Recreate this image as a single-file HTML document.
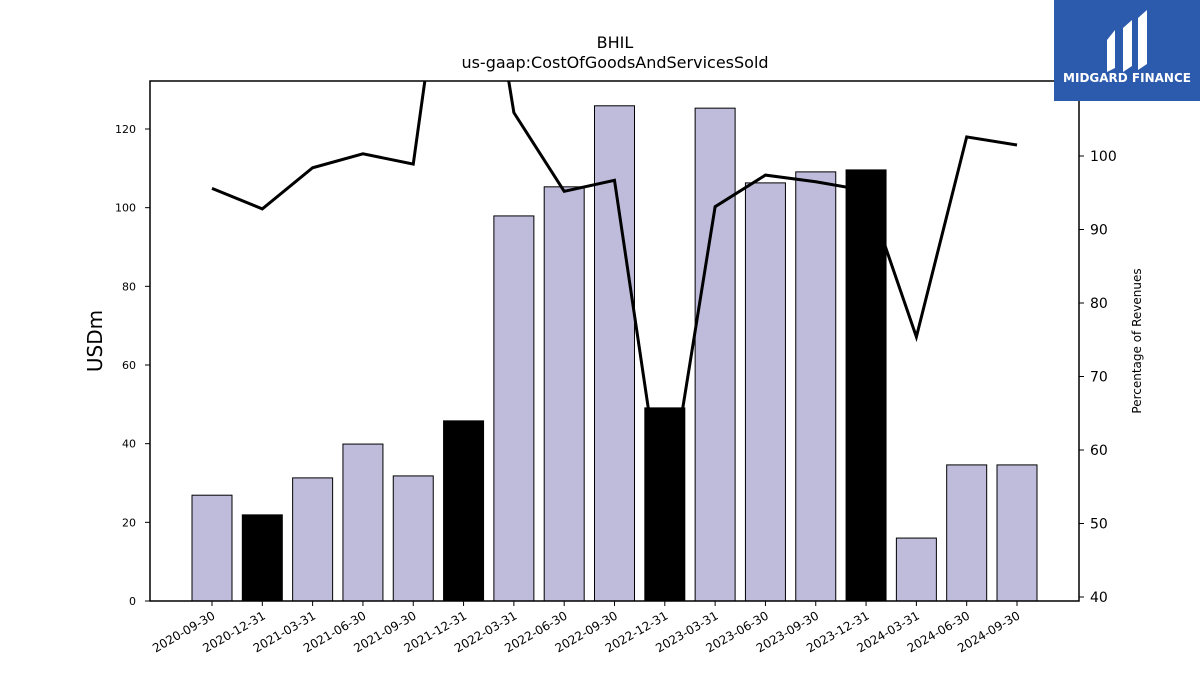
<!DOCTYPE html>
<html><head><meta charset="utf-8"><style>
body{margin:0;background:#fff;}
svg{display:block;font-family:"DejaVu Sans","Liberation Sans",sans-serif;}
</style></head><body>
<svg id="chart" width="1200" height="675" viewBox="0 0 1200 675">
<text x="615" y="48" font-size="16" text-anchor="middle">BHIL</text>
<text x="615" y="68" font-size="16" text-anchor="middle">us-gaap:CostOfGoodsAndServicesSold</text>
<g id="bars"></g><g id="line"></g>
<rect x="150" y="81" width="929" height="520" fill="none" stroke="#000" stroke-width="1.5"/>
<g id="axes"></g>
<text transform="translate(102,341) rotate(-90)" font-size="20" text-anchor="middle">USDm</text>
<text transform="translate(1141,341) rotate(-90)" font-size="12" text-anchor="middle">Percentage of Revenues</text>
<g>
<rect x="1054" y="0" width="146" height="101" fill="#2c5aad"/>
<path d="M1107 40 L1115 30 L1115 68 L1107 72 Z" fill="#fff"/>
<path d="M1123 28 L1132 20 L1132 66 L1123 72 Z" fill="#fff"/>
<path d="M1138 18 L1147 10 L1147 64 L1138 70 Z" fill="#fff"/>
<text x="1127" y="82" font-size="12" font-weight="bold" fill="#fff" text-anchor="middle">MIDGARD FINANCE</text>
</g>
</svg>
<script>
const categories=["2020-09-30","2020-12-31","2021-03-31","2021-06-30","2021-09-30","2021-12-31","2022-03-31","2022-06-30","2022-09-30","2022-12-31","2023-03-31","2023-06-30","2023-09-30","2023-12-31","2024-03-31","2024-06-30","2024-09-30"];
const costValues=[26.9,21.9,31.3,39.9,31.8,45.8,97.9,105.3,125.9,49.1,125.3,106.3,109.1,109.6,16.0,34.6,34.6];
const annualFlags=[0,1,0,0,0,1,0,0,0,1,0,0,0,1,0,0,0];
const pctValues=[95.6,92.8,98.4,100.3,98.9,148,105.9,95.2,96.7,50.5,93.1,97.4,96.5,95.3,75.4,102.6,101.5];
const leftTicks=[0,20,40,60,80,100,120];
const rightTicks=[40,50,60,70,80,90,100];
const NS="http://www.w3.org/2000/svg";
const X0=150,X1=1079,Y0=81,Y1=601;
const yL=v=>601-v*(472/120);
const yR=v=>156-(v-100)*7.35;
const xC=i=>212+i*(1017-212)/(categories.length-1);
function mk(t,a,p){const e=document.createElementNS(NS,t);for(const k in a)e.setAttribute(k,a[k]);p.appendChild(e);return e;}
const bars=document.getElementById('bars'),line=document.getElementById('line'),axes=document.getElementById('axes');
costValues.forEach((v,i)=>{
 const r=mk('rect',{x:xC(i)-20,y:yL(v),width:40,height:601-yL(v),fill:annualFlags[i]?'#000':'#bebbdb',stroke:'#000','stroke-width':1},bars);
 
 
});
const cp=mk('clipPath',{id:'clip'},document.getElementById('chart'));
mk('rect',{x:X0,y:Y0,width:X1-X0,height:Y1-Y0},cp);
const pl=mk('polyline',{points:pctValues.map((v,i)=>xC(i)+','+yR(v)).join(' '),fill:'none',stroke:'#000','stroke-width':3,'clip-path':'url(#clip)'},line);


leftTicks.forEach(t=>{
 mk('line',{x1:145,x2:150,y1:yL(t),y2:yL(t),stroke:'#000'},axes);
 const tx=mk('text',{x:136,y:yL(t)+4,'font-size':11,'text-anchor':'end'},axes);tx.textContent=t;
 
 
});
rightTicks.forEach(t=>{
 mk('line',{x1:1079,x2:1084,y1:yR(t),y2:yR(t),stroke:'#000'},axes);
 const tx=mk('text',{x:1090,y:yR(t)+5,'font-size':14},axes);tx.textContent=t;
 
 
});
categories.forEach((c,i)=>{
 mk('line',{x1:xC(i),x2:xC(i),y1:601,y2:606,stroke:'#000'},axes);
 const tx=mk('text',{transform:`translate(${xC(i)+4},618) rotate(-30)`,'font-size':12,'text-anchor':'end'},axes);tx.textContent=c;
 
 
});
</script>
</body></html>
